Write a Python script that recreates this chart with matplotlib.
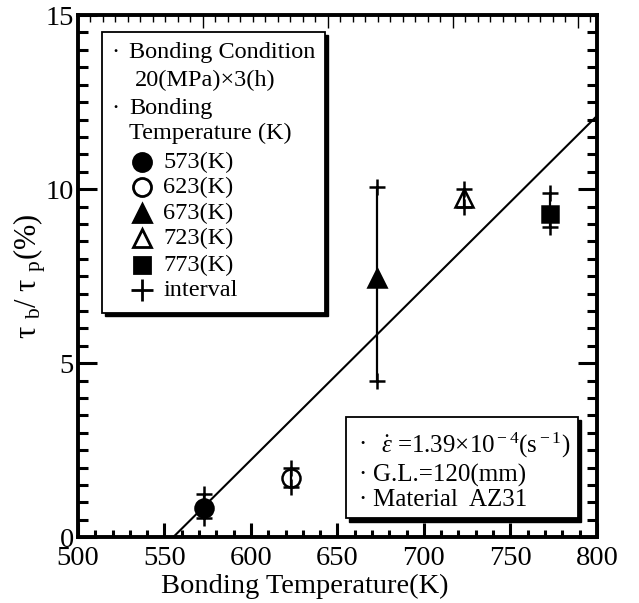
import matplotlib
matplotlib.use("Agg")
import matplotlib.pyplot as plt
from matplotlib.patches import Rectangle
from matplotlib.ticker import MultipleLocator

plt.rcParams['font.family'] = ['Liberation Serif', 'DejaVu Serif']
plt.rcParams['mathtext.fontset'] = 'custom'
plt.rcParams['mathtext.rm'] = 'Liberation Serif'
plt.rcParams['mathtext.it'] = 'Liberation Serif:italic'
plt.rcParams['font.size'] = 20.5

# bonding temperature (K) and strength ratio tau_b / tau_p (%)
temps = [573, 623, 673, 723, 773]
ratio = [0.83, 1.7, 7.45, 9.75, 9.3]
ratio_lo = [0.55, 1.45, 4.5, 9.5, 8.9]
ratio_hi = [1.25, 2.0, 10.05, 10.0, 9.9]
temp_labels = ['573(K)', '623(K)', '673(K)', '723(K)', '773(K)']
markers = ['o', 'o', '^', '^', 's']
filled = [True, False, True, False, True]

# regression line
fit_x = [555, 800]
fit_y = [0, 12.1]

fig = plt.figure(figsize=(6.39, 6.03), dpi=100)
ax = fig.add_axes([0.122, 0.109, 0.812, 0.866])

ax.plot(fit_x, fit_y, color='black', lw=1.5, zorder=2)

# error intervals with '+' at both ends
ax.vlines(temps, ratio_lo, ratio_hi, color='black', lw=1.6, zorder=3)
ax.plot(temps, ratio_lo, '+', color='black', ms=12, mew=1.8, zorder=3)
ax.plot(temps, ratio_hi, '+', color='black', ms=12, mew=1.8, zorder=3)

for t, r, m, f in zip(temps, ratio, markers, filled):
    ax.plot([t], [r], marker=m, ms=13 if m != 's' else 12, color='black',
            mfc='black' if f else 'none', mew=1.8, ls='none', zorder=4)

ax.set_xlim(500, 800)
ax.set_ylim(0, 15)
ax.xaxis.set_major_locator(MultipleLocator(50))
ax.xaxis.set_minor_locator(MultipleLocator(10))
ax.yaxis.set_major_locator(MultipleLocator(5))
ax.yaxis.set_minor_locator(MultipleLocator(0.5))

for s in ax.spines.values():
    s.set_linewidth(2.8)

ax.tick_params(which='both', direction='in', top=False, right=True,
               labelright=False)
ax.tick_params(axis='y', which='major', length=14, width=2.2, pad=3)
ax.tick_params(axis='y', which='minor', length=7, width=2.2)
ax.tick_params(axis='x', which='major', length=10, width=2.2, pad=6)
ax.tick_params(axis='x', which='minor', length=5, width=2.2)

# thin ticks along the top edge
top = ax.secondary_xaxis('top', functions=(lambda x: (x - 500) / 7.225,
                                           lambda u: u * 7.225 + 500))
top.xaxis.set_major_locator(MultipleLocator(10))
top.xaxis.set_minor_locator(MultipleLocator(1))
top.tick_params(which='both', direction='in', labeltop=False, width=1)
top.tick_params(which='major', length=9)
top.tick_params(which='minor', length=5)
for s in top.spines.values():
    s.set_visible(False)

ax.set_xlabel('Bonding Temperature(K)')
ax.xaxis.set_label_coords(0.437, -0.07)
ax.set_ylabel('τ $_{\\rm b}$/ τ $_{\\rm p}$(%)', fontsize=22)
ax.yaxis.set_label_coords(-0.058, 0.5)


def framed_box(x0, y0, x1, y1):
    shadow = Rectangle((x0 + 0.006, y0 - 0.006), x1 - x0, y1 - y0,
                       transform=ax.transAxes, facecolor='black',
                       edgecolor='black', lw=1, zorder=5)
    box = Rectangle((x0, y0), x1 - x0, y1 - y0, transform=ax.transAxes,
                    facecolor='white', edgecolor='black', lw=1.3, zorder=6)
    ax.add_patch(shadow)
    ax.add_patch(box)


def label(x, y, s, size=17.5):
    ax.text(x, y, s, transform=ax.transAxes, ha='left', va='center',
            fontsize=size, zorder=7)


# condition / marker key
framed_box(0.046, 0.429, 0.476, 0.967)
bullet_x = 0.064
label(bullet_x, 0.929, '·')
label(0.098, 0.929, 'Bonding Condition')
label(0.110, 0.875, '20(MPa)×3(h)')
label(bullet_x, 0.822, '·')
label(0.098, 0.822, 'Bonding')
label(0.098, 0.774, 'Temperature (K)')

key_y = [0.718, 0.670, 0.621, 0.573, 0.521]
for ky, lab, m, f in zip(key_y, temp_labels, markers, filled):
    ax.plot([0.123], [ky], marker=m, ms=13 if m != 's' else 12,
            color='black', mfc='black' if f else 'white', mew=2,
            transform=ax.transAxes, zorder=7, clip_on=False)
    label(0.164, ky, lab)
ax.plot([0.123], [0.473], marker='+', ms=16, mew=2, color='black',
        transform=ax.transAxes, zorder=7, clip_on=False)
label(0.164, 0.473, 'interval')

# test condition box
framed_box(0.516, 0.036, 0.963, 0.230)
label(0.540, 0.176, '·', 18)
label(0.585, 0.176, r'$\dot{\varepsilon}$ =1.39×10$^{\rm -4}$(s$^{\rm -1}$)', 18)
label(0.540, 0.119, '·', 18)
label(0.568, 0.119, 'G.L.=120(mm)', 18)
label(0.540, 0.071, '·', 18)
label(0.568, 0.071, 'Material  AZ31', 18)

fig.savefig('out.png', dpi=100)
